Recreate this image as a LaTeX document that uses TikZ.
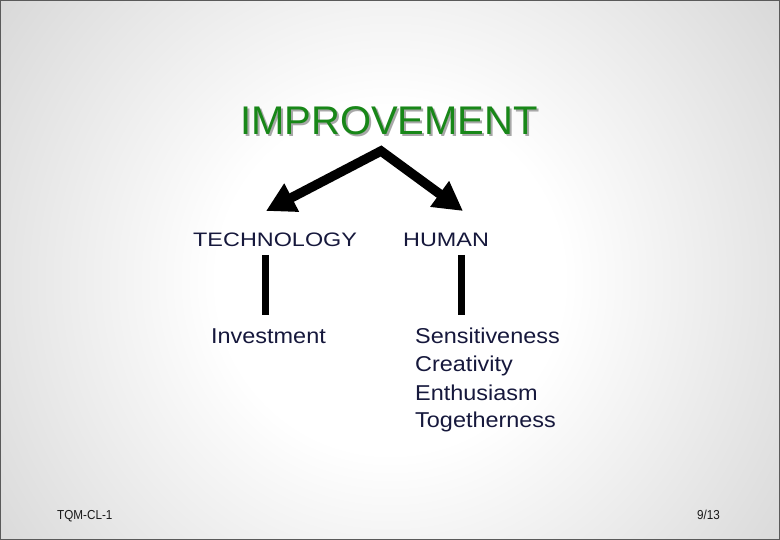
\documentclass[tikz,border=0pt]{standalone}
\usepackage{fontspec}
\setmainfont{Liberation Sans}
\newfontfamily\capfont[FakeStretch=1.2]{Liberation Sans}
\newfontfamily\listfont[FakeStretch=1.09]{Liberation Sans}
\newfontfamily\footfont[FakeStretch=0.9]{Liberation Sans}
\usetikzlibrary{arrows.meta}
\definecolor{navy}{RGB}{22,24,60}
\definecolor{titlegreen}{RGB}{24,135,24}
\definecolor{shadowgray}{RGB}{168,168,168}
\definecolor{framegray}{RGB}{90,90,90}
\pgfdeclareradialshading{slidebg}{\pgfpoint{0bp}{0bp}}{%
  color(0bp)=(white); color(9bp)=(white); color(26bp)=(black!16);
  color(30bp)=(black!24); color(40bp)=(black!36); color(50bp)=(black!40)}
\tikzset{
  headtxt/.style={font=\capfont\fontsize{19.5}{23}\selectfont, text=navy, anchor=base west, inner sep=0pt},
  itemtxt/.style={font=\listfont\fontsize{21.5}{25}\selectfont, text=navy, anchor=base west, inner sep=0pt},
  foottxt/.style={font=\footfont\fontsize{13}{15}\selectfont, text=black!90, anchor=base west, inner sep=0pt},
  bigarrow/.style={line width=9.5pt, line join=miter, {Triangle[length=29pt,width=30pt]}-{Triangle[length=29pt,width=30pt]}},
  bar/.style={line width=7pt}
}
\begin{document}
\begin{tikzpicture}[x=1pt,y=-1pt]
\useasboundingbox (0,0) rectangle (780,540);
\begin{scope}
\clip (0,0) rectangle (780,540);
\shade[shading=slidebg] (-90,-200) rectangle (870,760);
\end{scope}
\draw[framegray, line width=1.4pt] (0.7,0.7) rectangle (779.3,539.3);
% title
\node[font=\fontsize{40}{46}\selectfont, text=shadowgray, anchor=base, inner sep=0pt] (titleshadow) at (391,137) {IMPROVEMENT};
\node[font=\fontsize{40}{46}\selectfont, text=titlegreen, anchor=base, inner sep=0pt] (title) at (389,135) {IMPROVEMENT};
% headings
\node[headtxt] (tech) at (193,247) {TECHNOLOGY};
\node[headtxt] (human) at (403,247) {HUMAN};
% arrows
\coordinate (apex) at (381,151);
\coordinate (tl) at (266,211);
\coordinate (tr) at (463,211);
\draw[bigarrow] (tl) -- (apex) -- (tr);
% bars
\coordinate (lb1) at (265,255);
\coordinate (lb2) at (265,315);
\coordinate (rb1) at (461.5,255);
\coordinate (rb2) at (461.5,315);
\draw[bar] (lb1) -- (lb2);
\draw[bar] (rb1) -- (rb2);
% items
\node[itemtxt] (invest) at (211,344) {Investment};
\node[itemtxt] (sens) at (415,344) {Sensitiveness};
\node[itemtxt] (creat) at (415,372) {Creativity};
\node[itemtxt] (enth) at (415,400) {Enthusiasm};
\node[itemtxt] (tog) at (415,428) {Togetherness};
% footer
\node[foottxt] (footl) at (57,519) {TQM-CL-1};
\node[foottxt] (footr) at (697,519) {9/13};
\end{tikzpicture}
\end{document}
